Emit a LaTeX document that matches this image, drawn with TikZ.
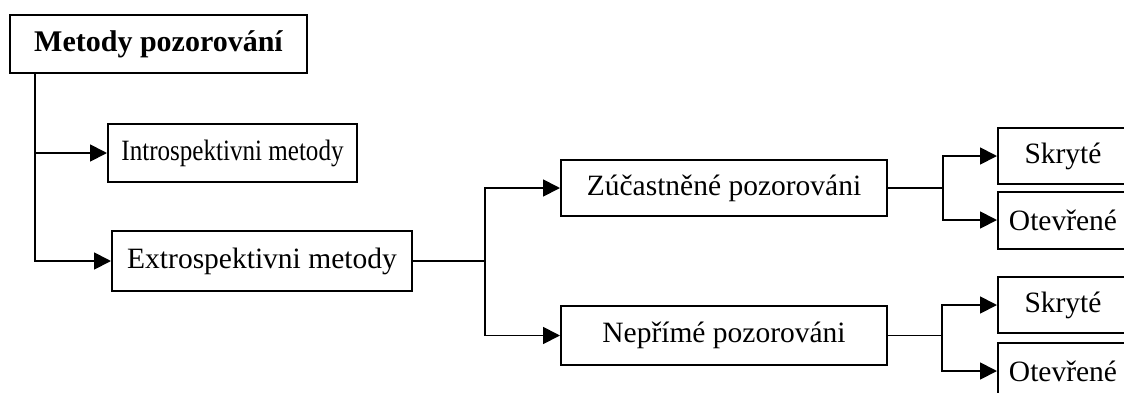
\documentclass[tikz,border=0pt]{standalone}
\usepackage{fontspec}
\setmainfont{Liberation Serif}
\usetikzlibrary{arrows.meta,positioning}

\begin{document}
\begin{tikzpicture}[
  x=1pt, y=-1pt,
  every node/.style={align=center, font=\fontsize{29.5}{34}\selectfont, draw, line width=2pt, inner sep=0pt, minimum height=57pt},
  link/.style={line width=1.8pt},
  pipe/.style={link, -{Triangle[length=17pt, width=17pt]}},
]
  \useasboundingbox (0,0) rectangle (1124,392);
  \clip (0,0) rectangle (1124,392);
  \node[minimum width=297pt, minimum height=58pt, font=\fontsize{30}{34}\selectfont\bfseries] (root) at (158.5,44) {Metody pozorování};
  \node[minimum width=249pt, minimum height=58pt] (intro) at (232.5,153) {\scalebox{0.85}[1]{Introspektivni metody}};
  \node[minimum width=300pt, minimum height=60pt] (extro) at (262,261) {Extrospektivni metody};
  \node[minimum width=326pt, minimum height=56pt] (ucast) at (724,188) {Zúčastněné pozorováni};
  \node[minimum width=326pt, minimum height=59pt] (neprim) at (724,335.5) {Nepřímé pozorováni};
  \node[minimum width=130pt, minimum height=56pt] (skr1) at (1063,156) {Skryté};
  \node[minimum width=130pt] (ote1) at (1063,220) {Otevřené};
  \node[minimum width=130pt, minimum height=56pt] (skr2) at (1063,305) {Skryté};
  \node[minimum width=130pt] (ote2) at (1063,371) {Otevřené};
  \coordinate (rs) at (35,0);
  \coordinate (j1) at (485,261);
  \coordinate (j2) at (943,188);
  \coordinate (j3) at (942,335.5);
  \draw[pipe] (root.south -| rs) |- (intro);
  \draw[pipe] (root.south -| rs) |- (extro);
  \foreach \x/\y in {extro/j1,ucast/j2,neprim/j3}\draw[link] (\x) -- (\y);
  \foreach \x/\y in {j1/ucast,j1/neprim,j2/skr1,j2/ote1,j3/skr2,j3/ote2}\draw[pipe] (\x) |- (\y);
\end{tikzpicture}
\end{document}
